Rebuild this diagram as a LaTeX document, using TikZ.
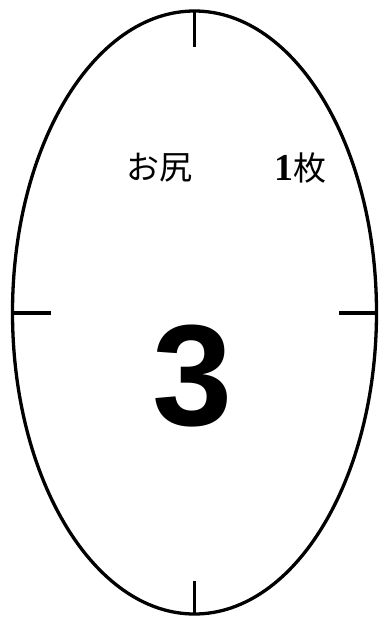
\documentclass[tikz,border=0pt]{standalone}
\usepackage{fontspec}
\newfontfamily\jpfont{Noto Sans CJK JP}
\newfontfamily\bignum{Liberation Sans}
\newfontfamily\smallnum{Liberation Serif}
\begin{document}
\begin{tikzpicture}[x=1pt,y=-1pt]
\useasboundingbox (0,0) rectangle (379,619);
\draw [line width=3.3pt] (194.5,312.5) ellipse (182 and 301.5);
\coordinate (top) at (194.5,11);
\coordinate (topin) at (194.5,47);
\coordinate (bot) at (194.5,614);
\coordinate (botin) at (194.5,581);
\coordinate (left) at (12.5,313);
\coordinate (leftin) at (51,313);
\coordinate (right) at (376.5,313);
\coordinate (rightin) at (339,313);
\draw [line width=3.3pt] (top) -- (topin);
\draw [line width=3.3pt] (bot) -- (botin);
\draw [line width=3.3pt] (left) -- (leftin);
\draw [line width=3.3pt] (right) -- (rightin);
\node (part) at (159,168) {\fontsize{33}{36}\selectfont\jpfont お尻};
\node (count) at (300,168) {\fontsize{33}{36}\selectfont{\fontsize{38}{40}\selectfont\smallnum\bfseries 1}\jpfont 枚};
\node (num) at (193,376) {\fontsize{144}{150}\selectfont\bignum\bfseries 3};
\end{tikzpicture}
\end{document}
